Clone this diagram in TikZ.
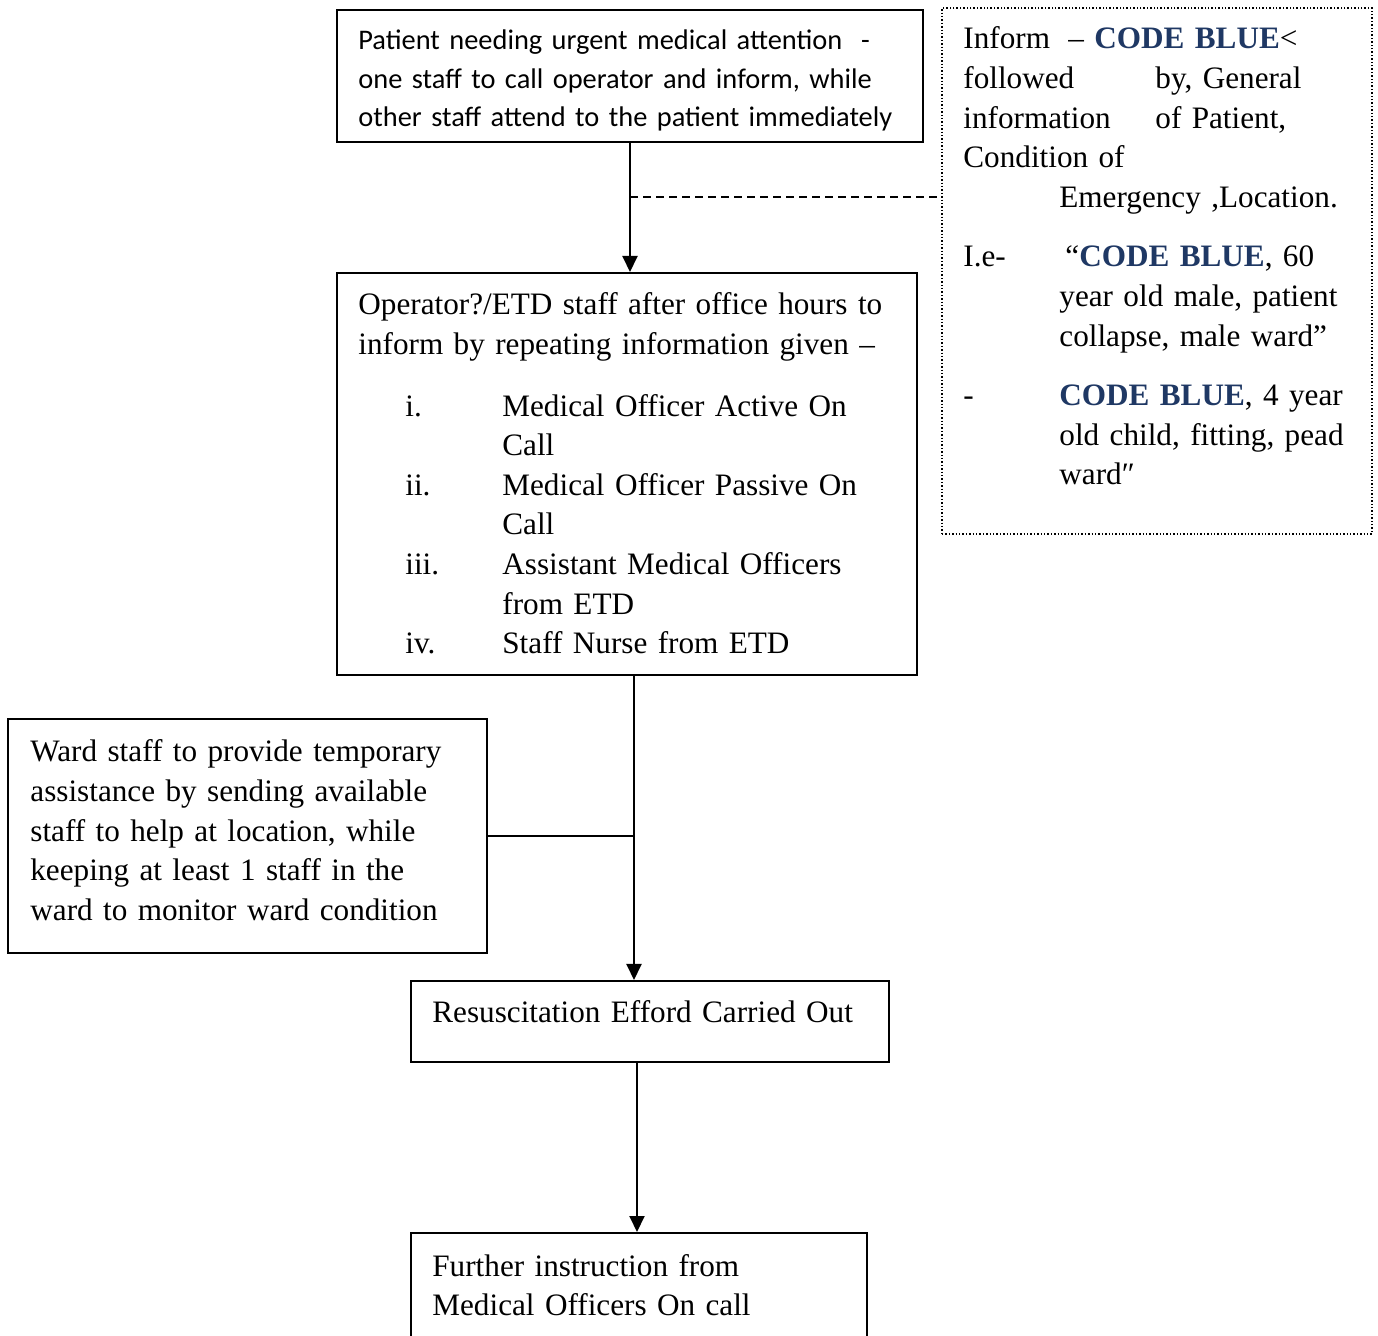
\documentclass[tikz,border=0pt]{standalone}
\usepackage{fontspec}
\setmainfont{Liberation Serif}
\newfontfamily\calibri{Carlito}
\usetikzlibrary{fit, arrows.meta}
\definecolor{codeblue}{HTML}{1F3864}
\newcommand{\cb}[1]{\textcolor{codeblue}{\textbf{#1}}}
\tikzset{
box/.style={draw, line width=1pt, inner sep=0pt}, % solid frames
notebox/.style={draw, densely dotted, line width=0.7pt, inner sep=0pt}, % the side note
txt/.style={anchor=base west, inner sep=0pt, align=left, text width=330pt, font=\fontsize{15.6}{19.8}\selectfont}, % text, placed by its first baseline
flow/.style={line width=1pt, -{Triangle[length=8pt,width=7.5pt]}}, % arrows between steps
}

\begin{document}
\begin{tikzpicture}[x=0.5pt, y=-0.5pt]
    \useasboundingbox (0,0) rectangle (1378,1336);
    % frames
    \node[box, fit={(337,10) (923,142)}] (patient) {};
    \node[notebox, fit={(942,8) (1372,534)}] (note) {};
    \node[box, fit={(337,273) (917,675)}] (operator) {};
    \node[box, fit={(8,719) (487,953)}] (ward) {};
    \node[box, fit={(411,981) (889,1062)}] (resus) {};
    \node[box, fit={(411,1233) (867,1350)}] (further) {};
    % texts
    \node[txt, font=\calibri\fontsize{14.2}{19.2}\selectfont] (patientT) at (358,50) {Patient needing urgent medical attention\ \ -\\
    one staff to call operator and inform, while\\
    other staff attend to the patient immediately};
    \node[txt] (noteT) at (963,49) {\makebox[52.5pt][l]{Inform}– \cb{CODE BLUE}<\\
    \makebox[96pt][l]{followed}by, General\\
    \makebox[96pt][l]{information}of Patient,\\
    Condition of\\
    \hspace*{48pt}Emergency ,Location.\\[10pt]
    \makebox[48pt][l]{I.e-}\hspace*{3pt}“\cb{CODE BLUE}, 60\\
    \hspace*{48pt}year old male, patient\\
    \hspace*{48pt}collapse, male ward”\\[10pt]
    \makebox[48pt][l]{-}\cb{CODE BLUE}, 4 year\\
    \hspace*{48pt}old child, fitting, pead\\
    \hspace*{48pt}ward″};
    \node[txt] (operatorT) at (358,315) {Operator?/ETD staff after office hours to\\
    inform by repeating information given –\\[11pt]
    \hspace*{23.5pt}\makebox[48.5pt][l]{i.}Medical Officer Active On\\
    \hspace*{72pt}Call\\
    \hspace*{23.5pt}\makebox[48.5pt][l]{ii.}Medical Officer Passive On\\
    \hspace*{72pt}Call\\
    \hspace*{23.5pt}\makebox[48.5pt][l]{iii.}Assistant Medical Officers\\
    \hspace*{72pt}from ETD\\
    \hspace*{23.5pt}\makebox[48.5pt][l]{iv.}Staff Nurse from ETD};
    \node[txt] (wardT) at (30,762) {Ward staff to provide temporary\\
    assistance by sending available\\
    staff to help at location, while\\
    keeping at least 1 staff in the\\
    ward to monitor ward condition};
    \node[txt] (resusT) at (432,1023) {Resuscitation Efford Carried Out};
    \node[txt] (furtherT) at (432,1276) {Further instruction from\\
    Medical Officers On call};
    % connectors
    \coordinate (dashY) at (0,197);
    \coordinate (trunk) at (634,837);
    \coordinate (lowcol) at (637,0);
    \draw[flow] (patient.south) -- (patient.south |- operator.north);
    \draw[dash pattern=on 4pt off 2.5pt, line width=0.6pt] (patient.south |- dashY) -- (note.west |- dashY);
    \draw[flow] (operator.south -| trunk) -- (resus.north -| trunk);
    \draw[line width=1pt] (ward.east) -- (ward.east -| trunk);
    \draw[flow] (resus.south -| lowcol) -- (further.north -| lowcol);
\end{tikzpicture}
\end{document}
